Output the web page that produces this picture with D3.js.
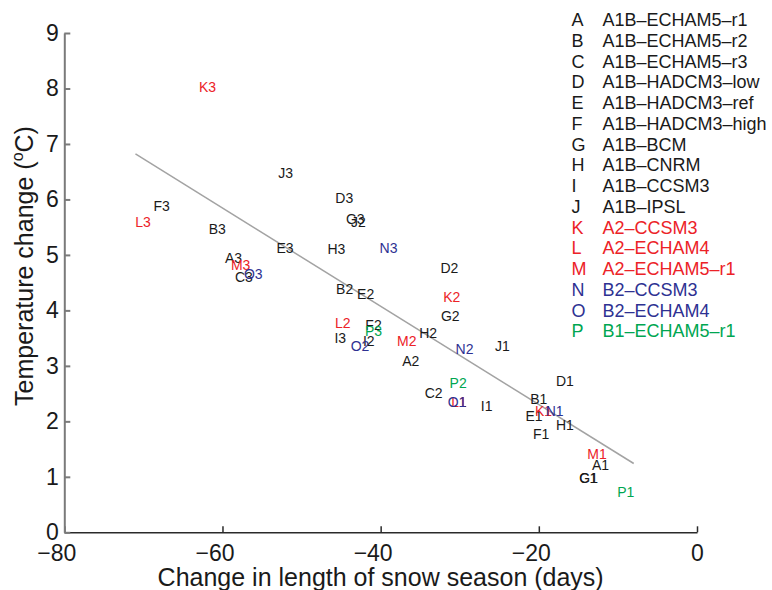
<!DOCTYPE html>
<html>
<head>
  <title>Snow season vs temperature change</title>
  <style>
    body { margin: 0; background: #fff; }
    svg { font-family: "Liberation Sans", Arial, Helvetica, sans-serif; }
    .axis-x path, .axis-x line { stroke: #2a2a2a; stroke-width: 1.5; }
    .axis-y path, .axis-y line { stroke: #7a7a7a; stroke-width: 2; }
    .axis-x text, .axis-y text { font-size: 23px; fill: #1a1a1a; font-family: "Liberation Sans", Arial, sans-serif; }
    .label { font-size: 14px; }
    .legend text { font-size: 18px; }
  </style>
</head>
<body>
  <svg id="chart" width="772" height="590"></svg>

  <script src="https://d3js.org/d3.v7.min.js"></script>
  <script>
    // model runs (letter codes and names)
    const codes = ["A", "B", "C", "D", "E", "F", "G", "H", "I", "J", "K", "L", "M", "N", "O", "P"];
    const names = ["A1B\u2013ECHAM5\u2013r1", "A1B\u2013ECHAM5\u2013r2", "A1B\u2013ECHAM5\u2013r3",
                   "A1B\u2013HADCM3\u2013low", "A1B\u2013HADCM3\u2013ref", "A1B\u2013HADCM3\u2013high",
                   "A1B\u2013BCM", "A1B\u2013CNRM", "A1B\u2013CCSM3", "A1B\u2013IPSL",
                   "A2\u2013CCSM3", "A2\u2013ECHAM4", "A2\u2013ECHAM5\u2013r1",
                   "B2\u2013CCSM3", "B2\u2013ECHAM4", "B1\u2013ECHAM5\u2013r1"];
    const groups = ["A1B", "A1B", "A1B", "A1B", "A1B", "A1B", "A1B", "A1B", "A1B", "A1B",
                    "A2", "A2", "A2", "B2", "B2", "B1"];

    // change in snow season length (days) and temperature change (degC), periods 1..3
    const snow1 = [-12.2, -20.0, -13.75, -16.7, -20.6, -19.7, -13.7, -16.7, -26.6, -24.6, -19.4, -30.1, -12.65, -18.0, -30.35, -9.0];
    const temp1 = [1.21, 2.40, 0.98, 2.73, 2.10, 1.78, 0.97, 1.93, 2.28, 3.36, 2.19, 2.34, 1.42, 2.19, 2.34, 0.72];
    const snow2 = [-36.2, -44.55, -33.3, -31.3, -41.9, -40.9, -31.2, -34.0, -41.5, -42.8, -31.0, -44.8, -36.7, -29.4, -42.6, -30.2];
    const temp2 = [3.08, 4.38, 2.51, 4.77, 4.29, 3.74, 3.89, 3.60, 3.45, 5.59, 4.25, 3.77, 3.44, 3.30, 3.36, 2.69];
    const snow3 = [-58.6, -60.65, -57.3, -44.6, -52.1, -67.7, -43.2, -45.6, -45.1, -52.0, -61.9, -70.05, -57.7, -39.0, -56.1, -40.9];
    const temp3 = [4.94, 5.46, 4.60, 6.02, 5.12, 5.88, 5.64, 5.11, 3.51, 6.48, 8.02, 5.60, 4.82, 5.13, 4.65, 3.63];

    // regression line end points
    const fitSnow = [-71, -8];
    const fitTemp = [6.82, 1.24];

    const xTicks = [-80, -60, -40, -20, 0];
    const yTicks = [0, 1, 2, 3, 4, 5, 6, 7, 8, 9];

    const groupColor = { A1B: "#1a1a1a", A2: "#ec2227", B2: "#2e3192", B1: "#00a651" };

    const svg = d3.select("#chart");

    const x = d3.scaleLinear().domain([-80, 0]).range([64.3, 697]);
    const y = d3.scaleLinear().domain([0, 9]).range([532.3, 33]);

    // axes
    const fmt = d => d < 0 ? "\u2212" + Math.abs(d) : String(d);

    const gx = svg.append("g")
      .attr("class", "axis-x")
      .attr("transform", `translate(0,${y(0)})`)
      .call(d3.axisBottom(x).tickValues(xTicks).tickFormat(fmt)
        .tickSizeInner(-6).tickSizeOuter(0).tickPadding(12));
    gx.selectAll("text").attr("dx", d => d < 0 ? -8 : 0);

    svg.append("g")
      .attr("class", "axis-y")
      .attr("transform", `translate(${x(-80)},0)`)
      .call(d3.axisLeft(y).tickValues(yTicks).tickFormat(fmt)
        .tickSizeInner(-6).tickSizeOuter(0).tickPadding(5.5));

    // axis titles
    svg.append("text")
      .attr("x", (x(-80) + x(0)) / 2)
      .attr("y", 586)
      .attr("text-anchor", "middle")
      .attr("font-size", 25)
      .attr("fill", "#1a1a1a")
      .text("Change in length of snow season (days)");

    const yl = svg.append("text")
      .attr("transform", "translate(33,266) rotate(-90)")
      .attr("text-anchor", "middle")
      .attr("font-size", 25)
      .attr("fill", "#1a1a1a");
    yl.append("tspan").text("Temperature change (");
    yl.append("tspan").attr("font-size", 16).attr("dy", -10).text("o");
    yl.append("tspan").attr("dy", 10).text("C)");

    // regression line
    svg.append("line")
      .attr("x1", x(fitSnow[0])).attr("y1", y(fitTemp[0]))
      .attr("x2", x(fitSnow[1])).attr("y2", y(fitTemp[1]))
      .attr("stroke", "#a3a3a3")
      .attr("stroke-width", 1.5);

    // labelled points
    const points = [];
    [[snow1, temp1, "1"], [snow2, temp2, "2"], [snow3, temp3, "3"]].forEach(([s, t, p]) => {
      codes.forEach((c, i) => points.push({ code: c + p, snow: s[i], temp: t[i], group: groups[i] }));
    });

    svg.selectAll(".label")
      .data(points)
      .enter().append("text")
      .attr("class", "label")
      .attr("x", d => x(d.snow))
      .attr("y", d => y(d.temp))
      .attr("text-anchor", "middle")
      .attr("dominant-baseline", "central")
      .attr("fill", d => groupColor[d.group])
      .text(d => d.code);

    // legend
    const legend = svg.append("g").attr("class", "legend");
    const rows = legend.selectAll("g")
      .data(codes)
      .enter().append("g")
      .attr("transform", (d, i) => `translate(0,${20 + i * 20.75})`)
      .attr("fill", (d, i) => groupColor[groups[i]]);
    rows.append("text").attr("x", 571.5).attr("dominant-baseline", "central").text(d => d);
    rows.append("text").attr("x", 602.5).attr("dominant-baseline", "central").text((d, i) => names[i]);
  </script>
</body>
</html>
